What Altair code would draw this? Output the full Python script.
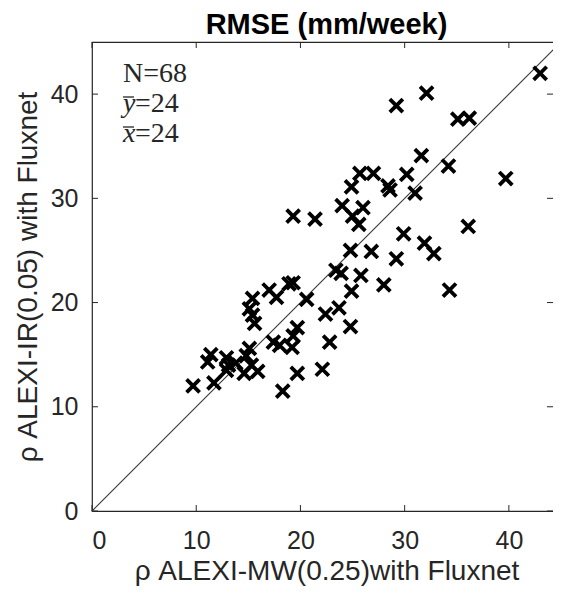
import altair as alt
import pandas as pd

# ---- data ----
x_vals = [43.0, 29.2, 32.1, 35.1, 36.2, 31.6, 34.2, 39.7, 30.2, 31.0,
          25.7, 27.0, 24.9, 28.4, 28.6, 24.0, 26.0, 25.0, 25.6, 19.3,
          21.4, 36.1, 29.9, 31.9, 32.8, 24.8, 26.8, 29.2, 23.4, 23.9,
          25.8, 28.0, 24.9, 34.3, 18.9, 19.3, 17.0, 17.7, 20.6, 15.4,
          15.1, 15.4, 15.6, 22.4, 23.7, 24.8, 19.7, 19.3, 17.4, 18.0,
          19.2, 22.8, 15.1, 14.8, 15.3, 11.4, 11.1, 12.9, 13.1, 13.8,
          12.9, 14.6, 15.9, 11.7, 9.7, 18.3, 19.7, 22.1]
y_vals = [42.0, 38.9, 40.1, 37.6, 37.7, 34.1, 33.1, 31.9, 32.3, 30.5,
          32.4, 32.4, 31.1, 31.2, 30.8, 29.3, 29.1, 28.3, 27.5, 28.3,
          28.0, 27.3, 26.6, 25.7, 24.7, 25.0, 24.9, 24.2, 23.1, 22.8,
          22.6, 21.7, 21.1, 21.2, 21.8, 21.9, 21.2, 20.5, 20.3, 20.4,
          19.4, 18.8, 18.0, 18.9, 19.5, 17.7, 17.6, 16.8, 16.2, 15.9,
          15.7, 16.2, 15.6, 14.9, 14.0, 15.0, 14.3, 14.7, 14.0, 14.2,
          13.5, 13.2, 13.4, 12.3, 12.0, 11.5, 13.2, 13.6]
tick_values = [0, 10, 20, 30, 40]
axis_domain = [0, 45]
chart_title = "RMSE (mm/week)"
x_title = "ρ ALEXI-MW(0.25)with Fluxnet"
y_title = "ρ ALEXI-IR(0.05) with Fluxnet"
stat_n = "N=68"
stat_vars = ["y", "x"]
stat_vals = ["=24", "=24"]

W, H = 469, 469
CLIP = 8  # right part of the frame that falls outside the window
GRAY = "#262626"
SANS = "Liberation Sans"
SERIF = "Liberation Serif"

xs = alt.Scale(domain=axis_domain, nice=False, zero=False)
ys = alt.Scale(domain=axis_domain, nice=False, zero=False)

df = pd.DataFrame({"x": x_vals, "y": y_vals})

x_axis = alt.Axis(values=tick_values, format="d", title=x_title, grid=False,
                  ticks=False, tickSize=0, domain=False,
                  labelFont=SANS, labelFontSize=25, labelColor=GRAY, labelPadding=17,
                  titleFont=SANS, titleFontSize=28, titleFontWeight="normal",
                  titleColor=GRAY, titleBaseline="alphabetic", titleY=68)
y_axis = alt.Axis(values=tick_values, format="d", title=y_title, grid=False,
                  ticks=False, tickSize=0, domain=False,
                  labelFont=SANS, labelFontSize=25, labelColor=GRAY, labelPadding=14,
                  titleFont=SANS, titleFontSize=28, titleFontWeight="normal",
                  titleColor=GRAY, titleBaseline="alphabetic", titleX=-56, titleY=H / 2)

points = alt.Chart(df).mark_point(
    shape="M-1,-1L1,1M-1,1L1,-1", size=170, filled=False,
    strokeWidth=3.8, color="black", opacity=1
).encode(
    x=alt.X("x:Q", scale=xs, axis=x_axis),
    y=alt.Y("y:Q", scale=ys, axis=y_axis),
)

line_df = pd.DataFrame({"a": [axis_domain[0]], "b": [axis_domain[1]]})
identity = alt.Chart(line_df).mark_rule(color="#333333", strokeWidth=1.1).encode(
    x=alt.X("a:Q", scale=xs, axis=x_axis),
    y=alt.Y("a:Q", scale=ys, axis=y_axis),
    x2="b:Q", y2="b:Q",
)

tick_df = pd.DataFrame({"t": tick_values})
TL = 6
tick_style = dict(color=GRAY, strokeWidth=1)
t_bottom = alt.Chart(tick_df).mark_rule(**tick_style).encode(
    x=alt.X("t:Q", scale=xs, axis=x_axis), y=alt.value(H), y2=alt.value(H - TL))
t_top = alt.Chart(tick_df).mark_rule(**tick_style).encode(
    x=alt.X("t:Q", scale=xs, axis=x_axis), y=alt.value(0), y2=alt.value(TL))
t_left = alt.Chart(tick_df).mark_rule(**tick_style).encode(
    y=alt.Y("t:Q", scale=ys, axis=y_axis), x=alt.value(0), x2=alt.value(TL))
t_right = alt.Chart(tick_df).mark_rule(**tick_style).encode(
    y=alt.Y("t:Q", scale=ys, axis=y_axis), x=alt.value(W - CLIP), x2=alt.value(W - CLIP - TL))

# annotation block
TX, TY0, DY = 31, 40, 30
text_layers = [
    alt.Chart(pd.DataFrame({"s": [stat_n]})).mark_text(
        font=SERIF, fontSize=28, color=GRAY, align="left", baseline="alphabetic"
    ).encode(text="s:N", x=alt.value(TX), y=alt.value(TY0))
]
for i, (v, r) in enumerate(zip(stat_vars, stat_vals)):
    yb = TY0 + DY * (i + 1)
    text_layers.append(
        alt.Chart(pd.DataFrame({"s": [v]})).mark_text(
            font=SERIF, fontSize=28, fontStyle="italic", color=GRAY,
            align="left", baseline="alphabetic"
        ).encode(text="s:N", x=alt.value(TX), y=alt.value(yb)))
    text_layers.append(
        alt.Chart(pd.DataFrame({"s": [r]})).mark_text(
            font=SERIF, fontSize=28, color=GRAY, align="left", baseline="alphabetic"
        ).encode(text="s:N", x=alt.value(TX + 12), y=alt.value(yb)))
    text_layers.append(
        alt.Chart(pd.DataFrame({"s": [v]})).mark_rule(color=GRAY, strokeWidth=1.3).encode(
            x=alt.value(TX), x2=alt.value(TX + 11), y=alt.value(yb - 15)))

chart = alt.layer(
    identity, t_bottom, t_top, t_left, t_right, points, *text_layers
).properties(
    width=W, height=H,
    title=alt.TitleParams(chart_title, font=SANS, fontSize=29, fontWeight="bold",
                          color="black", offset=1),
    autosize=alt.AutoSizeParams(type="none"),
    padding={"left": 84, "top": 34, "right": -CLIP, "bottom": 75},
).configure_view(
    stroke=GRAY, strokeWidth=1.2
)

chart.save("out.html", embed_options={"renderer": "svg", "actions": False})
